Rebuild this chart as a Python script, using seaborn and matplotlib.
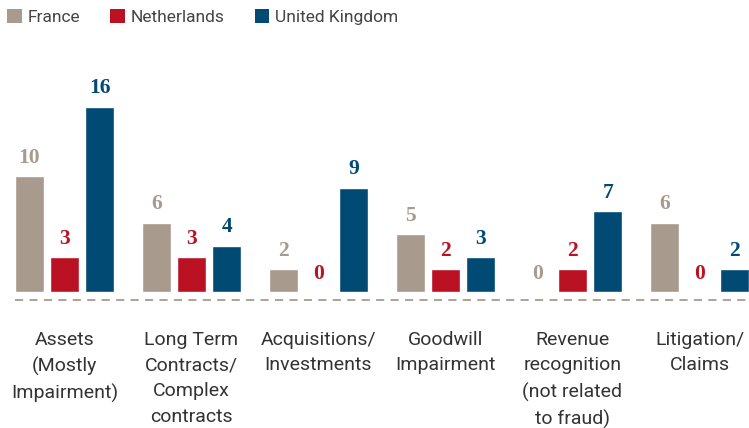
import matplotlib
matplotlib.use('Agg')
import matplotlib.pyplot as plt
import seaborn as sns
import pandas as pd
from matplotlib.patches import Patch

# data
categories = ['Assets\n(Mostly\nImpairment)',
              'Long Term\nContracts/\nComplex\ncontracts',
              'Acquisitions/\nInvestments',
              'Goodwill\nImpairment',
              'Revenue\nrecognition\n(not related\nto fraud)',
              'Litigation/\nClaims']
countries = ['France', 'Netherlands', 'United Kingdom']
france = [10, 6, 2, 5, 0, 6]
netherlands = [3, 3, 0, 2, 2, 0]
uk = [16, 4, 9, 3, 7, 2]
colors = ['#A89A8C', '#BA1222', '#004A74']

df = pd.DataFrame({
    'category': categories * 3,
    'country': [c for c in countries for _ in categories],
    'value': france + netherlands + uk,
})

sns.set_style('white')
plt.rcParams['font.family'] = ['Roboto', 'DejaVu Sans']

fig = plt.figure(figsize=(7.49, 4.28), dpi=100)
ax = fig.add_axes([0, 128 / 428, 1, 265 / 428])

palette = dict(zip(countries, colors))
sns.barplot(data=df, x='category', y='value', hue='country', order=categories,
            hue_order=countries, palette=palette, width=0.83, gap=0.17,
            saturation=1, legend=False, ax=ax)

# value labels in the bar colour
for cont, col in zip(ax.containers, colors):
    ax.bar_label(cont, fmt='%d', padding=6, color=col, fontsize=15.5,
                 fontweight='bold', family=['Liberation Serif', 'DejaVu Serif'])

ax.set_xlim(-64.5 / 127, (749 - 64.5) / 127)
ax.set_ylim(-0.69, 22.2)
ax.axhline(-0.69, xmin=15 / 749, xmax=1, color='#A89A8C', lw=1.3,
           linestyle=(0, (4.5, 3.5)), clip_on=False)

for s in ax.spines.values():
    s.set_visible(False)
ax.set_yticks([])
ax.set_xlabel('')
ax.set_ylabel('')
ax.tick_params(axis='x', length=0, pad=22, labelsize=14, labelcolor='#333333')
for t in ax.get_xticklabels():
    t.set_linespacing(1.55)

handles = [Patch(facecolor=c, edgecolor='none') for c in colors]
fig.legend(handles, countries, loc='upper left', bbox_to_anchor=(0.003, 0.991),
           ncol=3, frameon=False, fontsize=12.5, handlelength=0.85, handleheight=0.85,
           handletextpad=0.3, columnspacing=1.75, labelcolor='#444444',
           borderpad=0.3, borderaxespad=0)

fig.savefig('out.png', dpi=100)
